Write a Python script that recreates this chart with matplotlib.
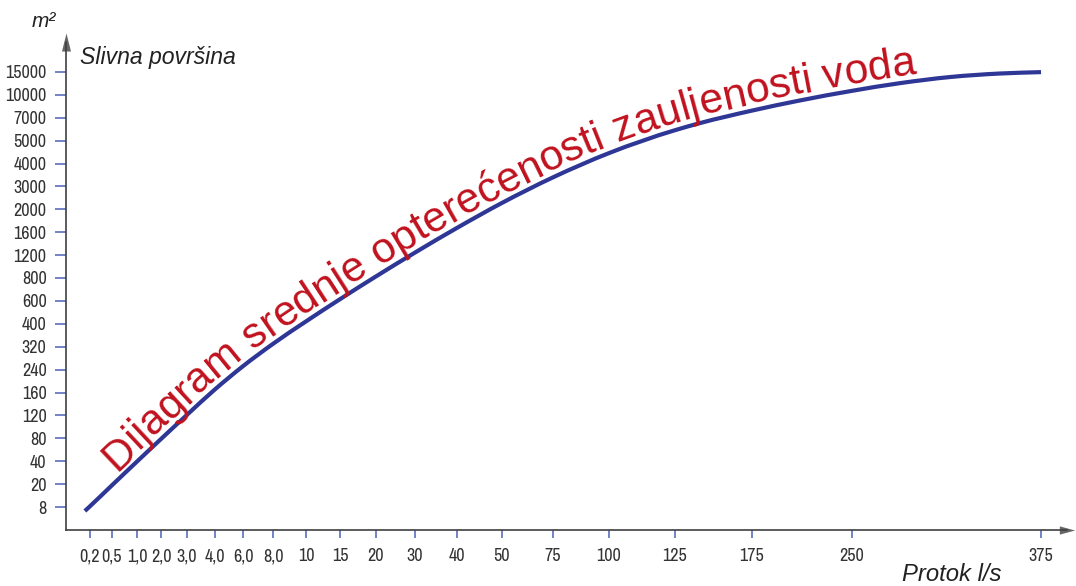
import os
import numpy as np
import matplotlib
matplotlib.use("Agg")
import matplotlib.pyplot as plt
import matplotlib.transforms as mtransforms
from matplotlib.font_manager import FontProperties, fontManager
from matplotlib.path import Path
from matplotlib.patches import PathPatch

# ---------------- data ----------------
x_values = [0.2, 0.5, 1, 2, 3, 4, 6, 8, 10, 15, 20, 30, 40, 50, 75, 100, 125, 175, 250, 375]
x_labels = ["0,2", "0,5", "1,0", "2,0", "3,0", "4,0", "6,0", "8,0", "10", "15", "20", "30",
            "40", "50", "75", "100", "125", "175", "250", "375"]
y_values = [8, 20, 40, 80, 120, 160, 240, 320, 400, 600, 800, 1200, 1600, 2000, 3000, 4000,
            5000, 7000, 10000, 15000]
y_labels = [str(v) for v in y_values]

# curve (flow l/s, area m2)
curve_flow = [0.13, 0.2, 0.5, 1, 2, 3, 4, 6, 8, 10, 15, 20, 30, 40, 50, 75, 100, 125, 141,
              175, 211, 250, 282, 315, 348, 375]
curve_area = [5.9, 8.4, 19.4, 39.7, 78.8, 121, 171, 252, 330, 421, 615, 828, 1244, 1675, 2279,
              3395, 4454, 5908, 6520, 7930, 9259, 10865, 12555, 13885, 14650, 14950]

title_text = "Dijagram srednje opterećenosti zauljenosti voda"

# ---------------- layout (non-uniform hand-drawn axes) ----------------
W, H = 1076, 586
x_slot_px = [90, 112, 137, 161, 187, 215, 243, 273, 306, 340, 376, 415, 457, 502, 553, 609,
             675, 752, 852, 1041]
y_slot = list(range(len(y_values)))
Y0_PX, Y_STEP = 507.0, 22.9          # pixel (from top) of first y slot, spacing
AX_L, AX_R, AX_T, AX_B = 66, 1067, 42, 530


def make_interp(xs, ys):
    xs = np.asarray(xs, float)
    ys = np.asarray(ys, float)

    def f(v):
        v = np.asarray(v, float)
        out = np.interp(v, xs, ys)
        lo_s = (ys[1] - ys[0]) / (xs[1] - xs[0])
        hi_s = (ys[-1] - ys[-2]) / (xs[-1] - xs[-2])
        out = np.where(v < xs[0], ys[0] + (v - xs[0]) * lo_s, out)
        out = np.where(v > xs[-1], ys[-1] + (v - xs[-1]) * hi_s, out)
        return out
    return f


fx = make_interp(x_values, x_slot_px)
fx_inv = make_interp(x_slot_px, x_values)
fy = make_interp(y_values, y_slot)
fy_inv = make_interp(y_slot, y_values)


# ---------------- fonts ----------------
def pick_condensed():
    best, best_score = None, 99
    for e in fontManager.ttflist:
        fn = os.path.basename(e.fname).lower()
        if e.style != 'normal':
            continue
        bad = ('bold', 'light', 'thin', 'black', 'medium', 'semibold', 'extra', 'italic',
               'oblique', 'heavy', 'mono')
        if any(b in fn for b in bad):
            continue
        if 'narrow' in fn:
            score = 0
        elif 'condensed' in fn and 'semi' not in fn:
            score = 1 if 'roboto' in fn else (2 if 'noto' in fn else 3)
        elif 'semicondensed' in fn:
            score = 6
        elif e.stretch in ('condensed',):
            score = 4
        else:
            continue
        if score < best_score:
            best, best_score = e.fname, score
    return best


cond_path = pick_condensed()
if cond_path:
    tick_fp = FontProperties(fname=cond_path, size=13)
else:
    tick_fp = FontProperties(family=['Liberation Sans', 'DejaVu Sans'], size=10.5)

plt.rcParams['font.family'] = ['Liberation Sans', 'DejaVu Sans']

fig = plt.figure(figsize=(W / 100, H / 100), dpi=100)
fig.patch.set_facecolor("white")
ax = fig.add_axes([AX_L / W, (H - AX_B) / H, (AX_R - AX_L) / W, (AX_B - AX_T) / H])
ax.set_xscale('function', functions=(fx, fx_inv))
ax.set_yscale('function', functions=(fy, fy_inv))

ax.set_xlim(float(fx_inv(AX_L)), float(fx_inv(AX_R)))
idx_bottom = (Y0_PX - AX_B) / Y_STEP
idx_top = (Y0_PX - AX_T) / Y_STEP
ax.set_ylim(float(fy_inv(idx_bottom)), float(fy_inv(idx_top)))

# smooth curve through the read points: cubic Hermite (as Bezier) in scale space
curve_color = "#2e3795"
X = fx(curve_flow)
Y = fy(curve_area) * Y_STEP          # make y units comparable to x pixels
n = len(X)
h = np.diff(X)
d = np.diff(Y) / h
m = np.empty(n)
m[0], m[-1] = d[0], d[-1]
for i in range(1, n - 1):
    m[i] = (d[i - 1] * h[i] + d[i] * h[i - 1]) / (h[i - 1] + h[i])
verts = [(X[0], Y[0])]
codes = [Path.MOVETO]
for i in range(n - 1):
    verts += [(X[i] + h[i] / 3, Y[i] + m[i] * h[i] / 3),
              (X[i + 1] - h[i] / 3, Y[i + 1] - m[i + 1] * h[i] / 3),
              (X[i + 1], Y[i + 1])]
    codes += [Path.CURVE4] * 3
verts = np.array(verts)
verts_data = np.column_stack([fx_inv(verts[:, 0]), fy_inv(verts[:, 1] / Y_STEP)])
curve_patch = PathPatch(Path(verts_data, codes), fill=False, edgecolor=curve_color, lw=3.0,
                        capstyle='butt', transform=ax.transData, clip_on=False)
ax.add_patch(curve_patch)

tick_blue = "#4a60b8"
ax.set_xticks(x_values, labels=x_labels, fontproperties=tick_fp, color="#333333")
ax.set_yticks(y_values, labels=y_labels, fontproperties=tick_fp, color="#333333")
ax.minorticks_off()
ax.tick_params(axis='x', direction='out', length=6, width=1.1, color=tick_blue, pad=7)
ax.tick_params(axis='y', direction='out', length=8, width=1.1, color=tick_blue, pad=6)
for s in ("top", "right"):
    ax.spines[s].set_visible(False)
for s in ("left", "bottom"):
    ax.spines[s].set_color("#404040")
    ax.spines[s].set_linewidth(1.2)

# arrow heads
arrow_col = "#666666"
ax.plot([1], [0], marker=[(-0.5, -0.27), (-0.5, 0.27), (0.5, 0)], markersize=11,
        color=arrow_col, transform=ax.transAxes, clip_on=False, mew=0)
ax.plot([0], [1], marker=[(-0.25, -0.5), (0.25, -0.5), (0, 0.5)], markersize=13,
        color=arrow_col, transform=ax.transAxes, clip_on=False, mew=0)

ital = dict(family=['Liberation Sans', 'DejaVu Sans'], style='italic', color="#222222")
fig.text(32 / W, (H - 27) / H, "m²", fontsize=15, va='baseline', ha='left', **ital)
fig.text(80 / W, (H - 64) / H, "Slivna površina", fontsize=16.6, va='baseline', ha='left', **ital)
fig.text(902 / W, (H - 581) / H, "Protok l/s", fontsize=17.2, va='baseline', ha='left', **ital)

# ---------------- curved title text along the curve ----------------
fig.canvas.draw()
renderer = fig.canvas.get_renderer()

tt = np.linspace(0, 1, 30)[:, None]
samp = [verts[0][None, :]]
for i in range(n - 1):
    b0, b1, b2, b3 = verts[3 * i], verts[3 * i + 1], verts[3 * i + 2], verts[3 * i + 3]
    seg_pts = ((1 - tt) ** 3) * b0 + 3 * ((1 - tt) ** 2) * tt * b1 + 3 * (1 - tt) * tt ** 2 * b2 + tt ** 3 * b3
    samp.append(seg_pts[1:])
samp = np.vstack(samp)
samp_data = np.column_stack([fx_inv(samp[:, 0]), fy_inv(samp[:, 1] / Y_STEP)])
pts = ax.transData.transform(samp_data)
seg = np.hypot(np.diff(pts[:, 0]), np.diff(pts[:, 1]))
s_cum = np.concatenate([[0], np.cumsum(seg)])


def pt_at(s):
    return np.array([np.interp(s, s_cum, pts[:, 0]), np.interp(s, s_cum, pts[:, 1])])


def ang_at(s, hh=12.0):
    a = pt_at(max(s - hh, 0))
    b = pt_at(min(s + hh, s_cum[-1]))
    return np.arctan2(b[1] - a[1], b[0] - a[0])


s_start = np.interp(121, pts[:, 0], s_cum)
s_end = np.interp(921, pts[:, 0], s_cum)

red_family = ['Liberation Sans', 'DejaVu Sans']
fp10 = FontProperties(family=red_family, size=10)


def tw(s, fp):
    w1 = renderer.get_text_width_height_descent(s + "|", fp, ismath=False)[0]
    w0 = renderer.get_text_width_height_descent("|", fp, ismath=False)[0]
    return w1 - w0


total10 = tw(title_text, fp10)
fs = 10 * (s_end - s_start) / total10
fp = FontProperties(family=red_family, size=fs)
offset = 7.0
red = "#c0121e"
for i, ch in enumerate(title_text):
    if ch == " ":
        continue
    w_pre = tw(title_text[:i], fp) if i > 0 else 0.0
    w_ch = tw(title_text[:i + 1], fp) - w_pre
    sc = s_start + w_pre + w_ch / 2
    p = pt_at(sc)
    a = ang_at(sc)
    nrm = np.array([-np.sin(a), np.cos(a)])
    q = p + offset * nrm
    fig.text(q[0], q[1], ch, transform=mtransforms.IdentityTransform(), rotation=np.degrees(a),
             rotation_mode='anchor', ha='center', va='baseline', fontproperties=fp, color=red)

fig.savefig("out.png", dpi=100, facecolor="white")
